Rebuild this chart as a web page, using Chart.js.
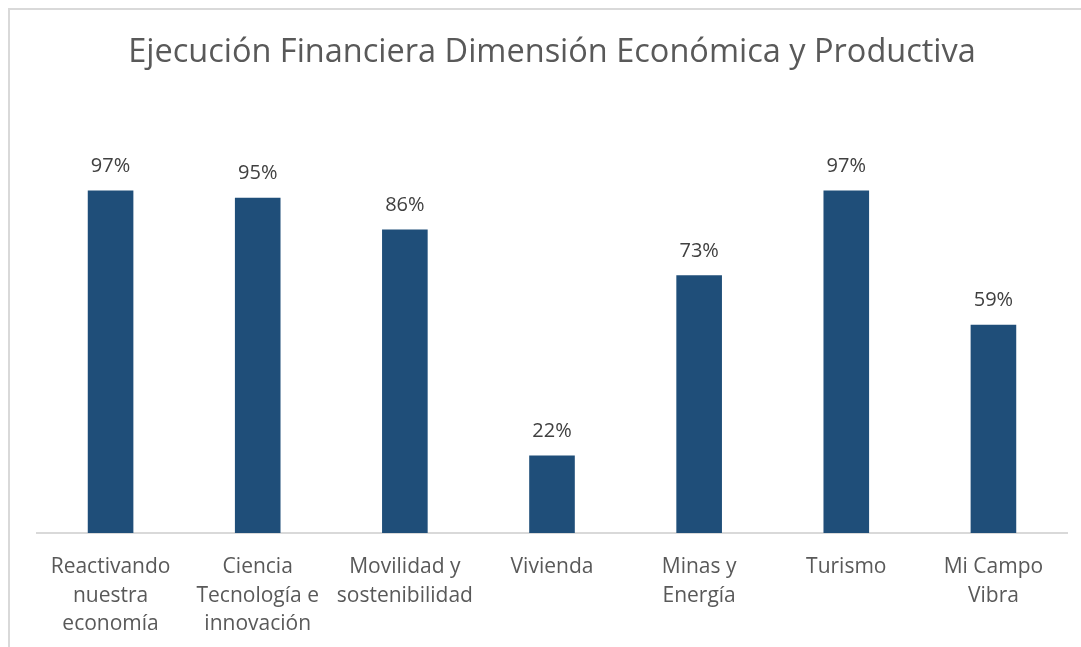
<!DOCTYPE html>
<html>
<head>
<meta charset="utf-8">
<script src="https://cdn.jsdelivr.net/npm/chart.js@4"></script>
<style>
    body { margin: 0; background: #ffffff; }
    #frame {
        position: absolute; left: 8px; top: 8px; width: 1073px; height: 639px;
        border-top: 2px solid #d9d9d9; border-left: 2px solid #d9d9d9;
    }
    #wrap { position: absolute; left: 0; top: 0; width: 1081px; height: 647px; }
</style>
</head>
<body>
<div id="frame"></div>
<div id="wrap"><canvas id="chart"></canvas></div>
<script>
// chart data
const categories = [
    ['Reactivando', 'nuestra', 'economía'],
    ['Ciencia', 'Tecnología e', 'innovación'],
    ['Movilidad y', 'sostenibilidad'],
    ['Vivienda'],
    ['Minas y', 'Energía'],
    ['Turismo'],
    ['Mi Campo', 'Vibra']
];
const execution = [0.97, 0.95, 0.86, 0.22, 0.73, 0.97, 0.59];
const chartTitle = 'Ejecución Financiera Dimensión Económica y Productiva';

const fontFamily = '"Open Sans", "Noto Sans", sans-serif';

// draws the percentage above each bar
const barLabels = {
    id: 'barLabels',
    afterDatasetsDraw(chart) {
        const ctx = chart.ctx;
        const meta = chart.getDatasetMeta(0);
        ctx.save();
        ctx.font = '20px ' + fontFamily;
        ctx.fillStyle = '#404040';
        ctx.textAlign = 'center';
        ctx.textBaseline = 'middle';
        meta.data.forEach((bar, i) => {
            const value = chart.data.datasets[0].data[i];
            ctx.fillText(Math.round(value * 100) + '%', bar.x, bar.y - 24);
        });
        ctx.restore();
    }
};

new Chart(document.getElementById('chart'), {
    type: 'bar',
    data: {
        labels: categories,
        datasets: [{
            data: execution,
            backgroundColor: '#1f4e79',
            categoryPercentage: 1,
            barPercentage: 0.31
        }]
    },
    options: {
        responsive: true,
        maintainAspectRatio: false,
        animation: false,
        layout: { padding: { left: 37, right: 14, top: 0, bottom: -11 } },
        plugins: {
            legend: { display: false },
            tooltip: { enabled: false },
            title: {
                display: true,
                text: chartTitle,
                color: '#595959',
                font: { family: fontFamily, size: 32.5, weight: 'normal' },
                padding: { top: 33, bottom: 108 }
            }
        },
        scales: {
            x: {
                grid: { display: false, drawTicks: false },
                border: { color: '#d9d9d9', width: 2 },
                ticks: {
                    color: '#595959',
                    font: { family: fontFamily, size: 21, lineHeight: 1.38 },
                    padding: 19,
                    maxRotation: 0
                }
            },
            y: {
                display: false,
                min: 0,
                max: 1
            }
        }
    },
    plugins: [barLabels]
});
</script>
</body>
</html>
